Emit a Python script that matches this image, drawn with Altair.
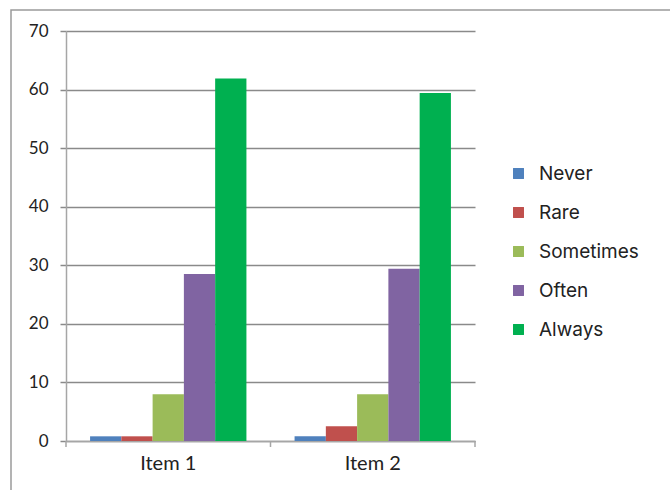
import altair as alt
import pandas as pd

items = ["Item 1", "Item 2"]
categories = ["Never", "Rare", "Sometimes", "Often", "Always"]
values_item1 = [0.8, 0.8, 8.0, 28.5, 61.9]
values_item2 = [0.8, 2.5, 8.0, 29.4, 59.4]
colors = ["#4F81BD", "#C0504D", "#9BBB59", "#8064A2", "#00B050"]

rows = []
for item, vals in zip(items, [values_item1, values_item2]):
    for c, v in zip(categories, vals):
        rows.append({"item": item, "category": c, "value": v})
df = pd.DataFrame(rows)

W, H = 409, 410
grid_col = "#8a8a8a"
dom_col = "#a6a6a6"

bars = alt.Chart(df).mark_bar().encode(
    x=alt.X("item:N", sort=items, title=None,
            scale=alt.Scale(paddingInner=0, paddingOuter=0),
            axis=alt.Axis(labelAngle=0, ticks=False, domainColor=dom_col, domainWidth=1.5,
                          labelFont="Lato", labelFontSize=20, labelColor="#222",
                          labelPadding=12)),
    xOffset=alt.XOffset("category:N", sort=categories,
                        scale=alt.Scale(paddingInner=0, paddingOuter=0.77)),
    y=alt.Y("value:Q", title=None,
            scale=alt.Scale(domain=[0, 70], nice=False),
            axis=alt.Axis(values=[0, 10, 20, 30, 40, 50, 60, 70], gridColor=grid_col, gridWidth=1.5,
                          domainColor=dom_col, domainWidth=1.5, tickColor=grid_col, tickSize=6,
                          tickWidth=1.5, labelFont="Lato", labelFontSize=17, labelColor="#222",
                          labelPadding=12)),
    color=alt.Color("category:N", sort=categories,
                    scale=alt.Scale(domain=categories, range=colors),
                    legend=alt.Legend(title=None, orient="none", legendX=443, legendY=133,
                                      symbolType="square", symbolSize=120, symbolStrokeWidth=0,
                                      labelFont="Inter", labelFontSize=19, labelColor="#222",
                                      rowPadding=19, labelOffset=11)),
)

tick_df = pd.DataFrame({"item": items})
ticks_start = alt.Chart(tick_df).mark_rule(color=dom_col, strokeWidth=1.5).encode(
    x=alt.X("item:N", sort=items, bandPosition=0),
    y=alt.value(H), y2=alt.value(H + 6),
)
ticks_end = alt.Chart(tick_df.tail(1)).mark_rule(color=dom_col, strokeWidth=1.5).encode(
    x=alt.X("item:N", sort=items, bandPosition=1),
    y=alt.value(H), y2=alt.value(H + 6),
)

frame = alt.Chart(tick_df.head(1)).mark_rect(fill=None, stroke="#9a9a9a", strokeWidth=1.5).encode(
    x=alt.value(-55), x2=alt.value(700), y=alt.value(-21), y2=alt.value(520),
)

chart = alt.layer(frame, bars, ticks_start, ticks_end).properties(
    width=W, height=H,
    autosize=alt.AutoSizeParams(type="none"),
    padding={"left": 66, "top": 31, "right": 195, "bottom": 49},
    background="white",
).configure_view(stroke=None)

chart.save("out.html", embed_options={"renderer": "svg", "actions": False})
